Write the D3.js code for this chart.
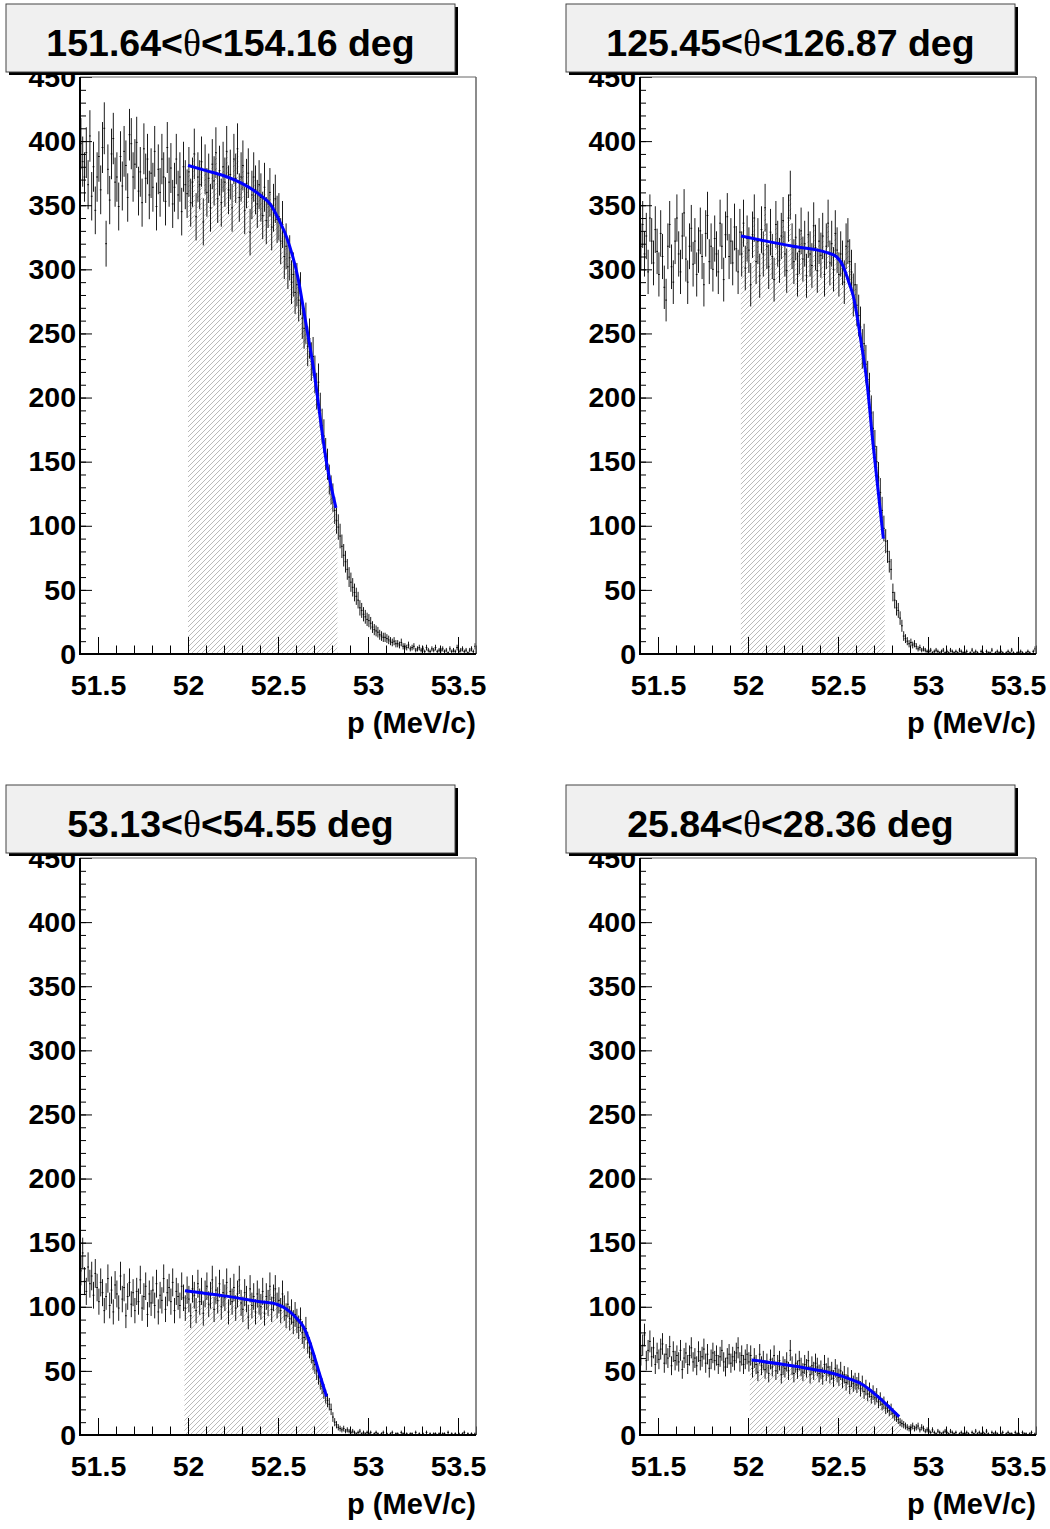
<!DOCTYPE html>
<html>
<head>
<meta charset="utf-8">
<script src="https://cdn.jsdelivr.net/npm/d3@7"></script>
<style>
body { margin: 0; background: #fff; }
</style>
</head>
<body>
<script>
// bins: 220 bins of 0.01 MeV/c from 51.40 to 53.60
var binLo = 51.4, binW = 0.01;

var counts151 = [
  398, 384, 372, 391, 366, 404, 357, 380, 346, 372,
  388, 362, 395, 410, 320, 378, 354, 390, 402, 368,
  372, 349, 388, 365, 392, 381, 356, 405, 398, 372,
  382, 399, 361, 376, 352, 394, 371, 386, 358, 375,
  364, 392, 349, 378, 360, 386, 372, 353, 395, 368,
  379, 351, 364, 386, 358, 372, 345, 380, 366, 359,
  376, 352, 368, 390, 341, 372, 366, 384, 337, 378,
  360, 371, 348, 382, 369, 391, 355, 377, 352, 380,
  368, 392, 362, 374, 348, 386, 371, 394, 356, 372,
  381, 346, 367, 375, 329, 358, 372, 362, 351, 366,
  356, 342, 364, 338, 351, 360, 333, 348, 355, 339,
  341, 322, 335, 310, 318, 302, 309, 290, 296, 282,
  288, 276, 281, 262, 254, 258, 240, 246, 228, 232,
  218, 205, 212, 190, 178, 170, 156, 148, 136, 128,
  122, 112, 104, 99, 92, 84, 77, 72, 66, 60,
  56, 52, 48, 45, 42, 36, 34, 31, 29, 27,
  26, 24, 21, 19, 18, 17, 15, 14, 13, 13,
  12, 11, 10, 9, 10, 8, 8, 7, 9, 6,
  6, 5, 7, 4, 5, 6, 3, 4, 5, 3,
  4, 2, 5, 3, 2, 4, 3, 5, 2, 3,
  3, 4, 2, 3, 1, 4, 2, 3, 2, 5,
  2, 3, 4, 2, 3, 1, 3, 4, 2, 6
];

var counts125 = [
  318, 335, 312, 326, 298, 340, 322, 305, 331, 314,
  296, 328, 310, 286, 276, 318, 335, 302, 290, 322,
  340, 312, 298, 326, 344, 308, 290, 318, 332, 304,
  322, 296, 315, 330, 310, 288, 328, 342, 306, 318,
  300, 324, 312, 298, 336, 318, 292, 327, 341, 310,
  322, 305, 333, 316, 298, 329, 312, 336, 301, 324,
  315, 288, 327, 340, 306, 322, 295, 331, 312, 348,
  318, 302, 329, 310, 292, 335, 320, 307, 326, 338,
  312, 299, 340, 358, 318, 306, 325, 296, 314, 330,
  308, 320, 295, 327, 312, 303, 334, 317, 299, 322,
  311, 326, 296, 318, 336, 305, 320, 300, 328, 315,
  296, 312, 305, 290, 318, 322, 306, 298, 280, 288,
  272, 264, 255, 238, 242, 226, 214, 205, 188, 176,
  162, 150, 138, 126, 112, 98, 88, 80, 72, 66,
  48, 42, 36, 34, 28, 22, 14, 12, 10, 8,
  9, 7, 8, 6, 4, 5, 3, 4, 3, 2,
  2, 3, 1, 2, 3, 2, 1, 2, 3, 1,
  2, 1, 3, 2, 1, 2, 1, 3, 2, 1,
  1, 2, 0, 1, 3, 1, 2, 1, 0, 2,
  1, 0, 2, 1, 1, 3, 0, 1, 2, 1,
  2, 1, 0, 1, 2, 1, 3, 1, 0, 1,
  1, 2, 1, 0, 1, 2, 1, 0, 2, 4
];

var counts53 = [
  128, 142, 120, 112, 131, 118, 124, 109, 126, 115,
  104, 119, 111, 97, 108, 122, 101, 113, 96, 117,
  110, 99, 124, 106, 115, 93, 108, 119, 102, 111,
  97, 112, 104, 121, 99, 108, 116, 94, 110, 103,
  113, 101, 118, 96, 109, 105, 122, 98, 111, 115,
  104, 119, 97, 112, 108, 101, 116, 107, 99, 113,
  106, 93, 114, 109, 97, 118, 104, 112, 95, 110,
  116, 102, 109, 121, 98, 113, 105, 118, 100, 111,
  107, 119, 96, 112, 104, 115, 99, 110, 121, 103,
  98, 111, 106, 92, 114, 101, 108, 96, 110, 104,
  100, 112, 95, 108, 103, 116, 98, 107, 114, 101,
  105, 97, 110, 99, 93, 102, 91, 96, 88, 94,
  89, 84, 90, 80, 76, 83, 72, 68, 64, 58,
  55, 50, 46, 42, 38, 34, 30, 27, 24, 20,
  14, 10, 8, 6, 5, 4, 5, 3, 4, 3,
  2, 3, 2, 1, 2, 3, 1, 2, 1, 2,
  1, 2, 0, 1, 2, 1, 0, 1, 2, 0,
  1, 0, 1, 2, 0, 1, 1, 0, 2, 1,
  0, 1, 0, 1, 1, 0, 2, 0, 1, 0,
  1, 0, 2, 0, 1, 0, 1, 1, 0, 1,
  0, 1, 1, 0, 2, 0, 1, 0, 1, 0,
  1, 0, 1, 2, 0, 1, 0, 1, 0, 1
];

var counts25 = [
  62, 70, 78, 58, 66, 73, 61, 68, 55, 64,
  59, 67, 71, 56, 63, 60, 69, 54, 65, 58,
  62, 57, 66, 51, 60, 64, 55, 62, 68, 57,
  60, 54, 65, 58, 61, 67, 56, 63, 52, 59,
  64, 58, 62, 55, 61, 66, 57, 53, 60, 63,
  56, 61, 58, 64, 68, 57, 62, 55, 59, 63,
  57, 62, 52, 60, 55, 49, 63, 54, 58, 51,
  56, 48, 59, 53, 62, 50, 55, 58, 47, 54,
  52, 57, 50, 66, 54, 48, 56, 51, 58, 53,
  49, 55, 52, 58, 47, 54, 50, 56, 53, 48,
  51, 46, 55, 49, 53, 47, 50, 44, 52, 48,
  45, 50, 43, 47, 41, 46, 38, 44, 40, 42,
  39, 42, 36, 40, 34, 37, 32, 35, 30, 33,
  29, 31, 26, 28, 24, 25, 21, 22, 19, 20,
  17, 15, 14, 12, 10, 9, 8, 7, 6, 5,
  6, 7, 5, 6, 7, 4, 6, 5, 3, 4,
  3, 2, 4, 2, 1, 3, 2, 1, 2, 3,
  2, 1, 3, 2, 1, 2, 0, 1, 2, 1,
  1, 2, 1, 0, 2, 1, 3, 1, 2, 1,
  2, 1, 3, 1, 0, 2, 1, 2, 1, 0,
  1, 2, 0, 1, 2, 1, 1, 0, 2, 1,
  1, 0, 2, 1, 1, 0, 1, 2, 0, 1
];

// fit curves (p, counts)
var fit151 = [[52.0, 381], [52.1, 377], [52.2, 373], [52.3, 367], [52.4, 358], [52.456, 351],
  [52.5, 340], [52.548, 325], [52.613, 292], [52.65, 262], [52.696, 224], [52.77, 149], [52.822, 114]];
var fit125 = [[51.961, 326], [52.1, 322], [52.25, 318], [52.44, 313], [52.49, 310], [52.53, 302],
  [52.56, 290], [52.585, 279], [52.632, 240], [52.659, 214], [52.696, 162], [52.752, 90]];
var fit53 = [[51.983, 112.5], [52.2, 108.5], [52.4, 104], [52.493, 102], [52.567, 96], [52.61, 90],
  [52.641, 84.5], [52.67, 75], [52.696, 64], [52.73, 48], [52.77, 30]];
var fit25 = [[52.02, 58.5], [52.2, 55], [52.35, 51.5], [52.474, 48], [52.56, 44], [52.64, 39],
  [52.7, 32.5], [52.733, 28.6], [52.79, 21], [52.84, 14.3]];

// hatched (fit) ranges
var range151 = [52.00, 52.83];
var range125 = [51.96, 52.76];
var range53 = [51.98, 52.78];
var range25 = [52.01, 52.85];

var titleLo = ['151.64', '125.45', '53.13', '25.84'];
var titleHi = ['154.16', '126.87', '54.55', '28.36'];

var xTicks = [51.5, 52, 52.5, 53, 53.5];
var yTicks = [0, 50, 100, 150, 200, 250, 300, 350, 400, 450];
var xTitle = 'p (MeV/c)';

var svg = d3.select( 'body' )
    .append( 'svg' )
    .attr( 'width', 1050 )
    .attr( 'height', 1529 );

var defs = svg.append( 'defs' );
var pat = defs.append( 'pattern' )
    .attr( 'id', 'hatch' )
    .attr( 'patternUnits', 'userSpaceOnUse' )
    .attr( 'width', 5 ).attr( 'height', 5 );
pat.append( 'path' )
    .attr( 'd', 'M-1,1 L1,-1 M0,5 L5,0 M4,6 L6,4' )
    .attr( 'stroke', '#a8a8a8' )
    .attr( 'stroke-width', 0.8 );

var font = '"Liberation Sans", Arial, Helvetica, sans-serif';

function drawPad( idx, ox, oy, counts, fit, range ) {
    var x = d3.scaleLinear().domain( [51.4, 53.6] ).range( [ox + 80, ox + 476] );
    var y = d3.scaleLinear().domain( [0, 450] ).range( [oy + 654, oy + 77] );

    var g = svg.append( 'g' );

    // clip to frame
    defs.append( 'clipPath' ).attr( 'id', 'frame' + idx )
        .append( 'rect' )
        .attr( 'x', x( 51.4 ) ).attr( 'y', y( 450 ) )
        .attr( 'width', x( 53.6 ) - x( 51.4 ) ).attr( 'height', y( 0 ) - y( 450 ) );
    defs.append( 'clipPath' ).attr( 'id', 'fitrange' + idx )
        .append( 'rect' )
        .attr( 'x', x( range[0] ) ).attr( 'y', y( 450 ) )
        .attr( 'width', x( range[1] ) - x( range[0] ) ).attr( 'height', y( 0 ) - y( 450 ) );

    // hatched area under histogram inside fit range
    var steps = counts.map( function( v, i ) { return [binLo + i * binW, v]; } );
    steps.push( [binLo + counts.length * binW, counts[counts.length - 1]] );
    var area = d3.area()
        .curve( d3.curveStepAfter )
        .x( function( d ) { return x( d[0] ); } )
        .y0( y( 0 ) )
        .y1( function( d ) { return y( d[1] ); } );
    g.append( 'path' )
        .attr( 'clip-path', 'url(#fitrange' + idx + ')' )
        .attr( 'd', area( steps ) )
        .attr( 'fill', 'url(#hatch)' );

    // error bars
    var bars = g.append( 'g' )
        .attr( 'clip-path', 'url(#frame' + idx + ')' )
        .attr( 'stroke', '#000' )
        .attr( 'stroke-width', 0.9 );
    counts.forEach( function( v, i ) {
        if ( v <= 0 ) return;
        var c = binLo + ( i + 0.5 ) * binW;
        var e = Math.sqrt( v );
        bars.append( 'line' )
            .attr( 'x1', x( c ) ).attr( 'x2', x( c ) )
            .attr( 'y1', y( v - e ) ).attr( 'y2', y( v + e ) );
        bars.append( 'line' )
            .attr( 'x1', x( c - binW / 2 ) ).attr( 'x2', x( c + binW / 2 ) )
            .attr( 'y1', y( v ) ).attr( 'y2', y( v ) );
    } );

    // fit curve
    var line = d3.line()
        .curve( d3.curveMonotoneX )
        .x( function( d ) { return x( d[0] ); } )
        .y( function( d ) { return y( d[1] ); } );
    g.append( 'path' )
        .attr( 'd', line( fit ) )
        .attr( 'fill', 'none' )
        .attr( 'stroke', '#0000ff' )
        .attr( 'stroke-width', 3 );

    // axes
    var yMinor = g.append( 'g' )
        .attr( 'transform', 'translate(' + ( ox + 80 ) + ',0)' )
        .call( d3.axisLeft( y ).tickValues( d3.range( 0, 451, 10 ) ).tickSize( -6 ).tickFormat( '' ) );
    var yMajor = g.append( 'g' )
        .attr( 'transform', 'translate(' + ( ox + 80 ) + ',0)' )
        .call( d3.axisLeft( y ).tickValues( yTicks ).tickSize( -12 ).tickPadding( 4 ).tickFormat( d3.format( 'd' ) ) );
    var xMinor = g.append( 'g' )
        .attr( 'transform', 'translate(0,' + ( oy + 654 ) + ')' )
        .call( d3.axisBottom( x ).tickValues( d3.range( 514, 537 ).map( function( t ) { return t / 10; } ) ).tickSize( -8.5 ).tickFormat( '' ) );
    var xMajor = g.append( 'g' )
        .attr( 'transform', 'translate(0,' + ( oy + 654 ) + ')' )
        .call( d3.axisBottom( x ).tickValues( xTicks ).tickSize( -17 ).tickPadding( 21 ).tickFormat( d3.format( '' ) ) );

    [yMinor, yMajor, xMinor, xMajor].forEach( function( a ) {
        a.select( '.domain' ).remove();
        a.selectAll( '.tick line' ).attr( 'stroke', '#000' ).attr( 'stroke-width', 1 );
        a.attr( 'font-family', font ).attr( 'font-size', 28.5 ).attr( 'font-weight', 'bold' );
        a.selectAll( 'text' ).attr( 'fill', '#000' );
    } );

    // frame
    g.append( 'line' )
        .attr( 'x1', x( 51.4 ) ).attr( 'x2', x( 53.6 ) )
        .attr( 'y1', y( 450 ) ).attr( 'y2', y( 450 ) )
        .attr( 'stroke', '#666' ).attr( 'stroke-width', 1 );
    g.append( 'line' )
        .attr( 'x1', x( 53.6 ) ).attr( 'x2', x( 53.6 ) )
        .attr( 'y1', y( 450 ) ).attr( 'y2', y( 0 ) )
        .attr( 'stroke', '#666' ).attr( 'stroke-width', 1.5 );
    g.append( 'line' )
        .attr( 'x1', x( 51.4 ) ).attr( 'x2', x( 51.4 ) )
        .attr( 'y1', y( 450 ) ).attr( 'y2', y( 0 ) + 1 )
        .attr( 'stroke', '#000' ).attr( 'stroke-width', 2 );
    g.append( 'line' )
        .attr( 'x1', x( 51.4 ) - 1 ).attr( 'x2', x( 53.6 ) )
        .attr( 'y1', y( 0 ) ).attr( 'y2', y( 0 ) )
        .attr( 'stroke', '#000' ).attr( 'stroke-width', 2 );

    // x title
    g.append( 'text' )
        .attr( 'x', ox + 476 ).attr( 'y', oy + 733 )
        .attr( 'text-anchor', 'end' )
        .attr( 'font-family', font ).attr( 'font-size', 29 ).attr( 'font-weight', 'bold' )
        .text( xTitle );

    // title box with shadow
    g.append( 'rect' )
        .attr( 'x', ox + 9 ).attr( 'y', oy + 7 )
        .attr( 'width', 449 ).attr( 'height', 68 )
        .attr( 'fill', '#000' );
    g.append( 'rect' )
        .attr( 'x', ox + 6 ).attr( 'y', oy + 4 )
        .attr( 'width', 449 ).attr( 'height', 68 )
        .attr( 'fill', '#f0f0f0' )
        .attr( 'stroke', '#444' ).attr( 'stroke-width', 1 );
    var t = g.append( 'text' )
        .attr( 'x', ox + 230.5 ).attr( 'y', oy + 56 )
        .attr( 'text-anchor', 'middle' )
        .attr( 'font-family', font ).attr( 'font-size', 37.5 ).attr( 'font-weight', 'bold' );
    t.append( 'tspan' ).text( titleLo[idx] + '<' );
    t.append( 'tspan' )
        .attr( 'font-family', '"Liberation Serif", "Times New Roman", serif' )
        .attr( 'font-weight', 'normal' )
        .text( '\u03b8' );
    t.append( 'tspan' ).text( '<' + titleHi[idx] + ' deg' );
}

drawPad( 0, 0, 0, counts151, fit151, range151 );
drawPad( 1, 560, 0, counts125, fit125, range125 );
drawPad( 2, 0, 781, counts53, fit53, range53 );
drawPad( 3, 560, 781, counts25, fit25, range25 );
</script>
</body>
</html>
